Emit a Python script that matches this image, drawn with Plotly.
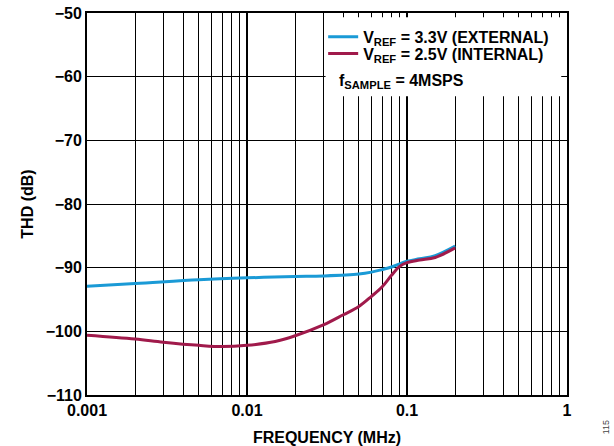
import plotly.graph_objects as go

# THD vs input frequency for two reference configurations
freq_ext = [0.001, 0.002, 0.005, 0.01, 0.02, 0.03, 0.05, 0.06, 0.07, 0.08, 0.09, 0.1, 0.12, 0.15, 0.2]
thd_ext = [-92.9, -92.5, -91.9, -91.6, -91.4, -91.3, -91.0, -90.7, -90.3, -89.9, -89.4, -89.0, -88.6, -88.1, -86.6]

freq_int = [0.001, 0.002, 0.003, 0.005, 0.007, 0.01, 0.015, 0.02, 0.03, 0.04, 0.05, 0.06, 0.07, 0.08, 0.09, 0.1, 0.12, 0.15, 0.2]
thd_int = [-100.6, -101.2, -101.7, -102.2, -102.4, -102.2, -101.6, -100.7, -99.0, -97.4, -96.1, -94.5, -93.0, -91.2, -89.8, -89.2, -88.8, -88.4, -86.9]

x_major = [0.001, 0.01, 0.1, 1]
x_major_text = ["0.001", "0.01", "0.1", "1"]
x_minor = [m * d for d in (0.001, 0.01, 0.1) for m in range(2, 10)]

BLUE = "#1A9AD6"
RED = "#A01A4B"
FONT = "Liberation Sans, Arial, sans-serif"
BOLD = dict(family=FONT, size=16, color="black", weight="bold")
LEG_FONT = dict(family=FONT, size=16, color="black", weight="bold")

fig = go.Figure()
fig.add_trace(go.Scatter(
    x=freq_ext, y=thd_ext, mode="lines", line=dict(color=BLUE, width=3, shape="spline"),
    name="V<sub>REF</sub> = 3.3V (EXTERNAL)", legend="legend"))
fig.add_trace(go.Scatter(
    x=freq_int, y=thd_int, mode="lines", line=dict(color=RED, width=3, shape="spline"),
    name="V<sub>REF</sub> = 2.5V (INTERNAL)", legend="legend2"))

# white panel behind the legend and sample-rate note
fig.add_shape(type="rect", xref="paper", yref="paper", x0=0.497, x1=0.988, y0=0.782, y1=0.989,
              fillcolor="white", line=dict(width=0), layer="above")

fig.add_annotation(xref="paper", yref="paper", x=0.52, y=0.82, xanchor="left", yanchor="middle",
                   text="f<sub>SAMPLE</sub> = 4MSPS", showarrow=False,
                   font=dict(family=FONT, size=16, color="black", weight="bold"))

fig.add_annotation(xref="paper", yref="paper", x=1.083, y=-0.085, xanchor="center", yanchor="middle",
                   text="115", textangle=-90, showarrow=False,
                   font=dict(family=FONT, size=9, color="#444"))

leg_common = dict(xanchor="left", yanchor="top", bgcolor="rgba(0,0,0,0)",
                  font=LEG_FONT, itemwidth=30)

fig.update_layout(
    width=614, height=446,
    margin=dict(l=87, r=47, t=13, b=51, autoexpand=False),
    plot_bgcolor="white", paper_bgcolor="white",
    font=dict(family=FONT, size=16, color="black"),
    showlegend=True,
    legend=dict(x=0.492, y=0.982, **leg_common),
    legend2=dict(x=0.492, y=0.938, **leg_common),
    xaxis=dict(
        type="log", range=[-3, 0],
        tickvals=x_major, ticktext=x_major_text,
        showgrid=True, gridcolor="black", gridwidth=1.5,
        minor=dict(tickvals=x_minor, showgrid=True, gridcolor="black", gridwidth=1, ticks=""),
        showline=True, linecolor="black", linewidth=2, mirror=True,
        ticks="", ticklen=0, automargin=False,
        tickfont=BOLD,
        title=dict(text="FREQUENCY (MHz)", font=BOLD, standoff=14),
        zeroline=False,
    ),
    yaxis=dict(
        range=[-110, -50], dtick=10, tick0=-110,
        showgrid=True, gridcolor="black", gridwidth=1.2,
        showline=True, linecolor="black", linewidth=2, mirror=True,
        ticks="", zeroline=False, automargin=False,
        tickfont=BOLD,
        title=dict(text="THD (dB)", font=BOLD, standoff=8),
    ),
)

fig.write_html("out.html")
